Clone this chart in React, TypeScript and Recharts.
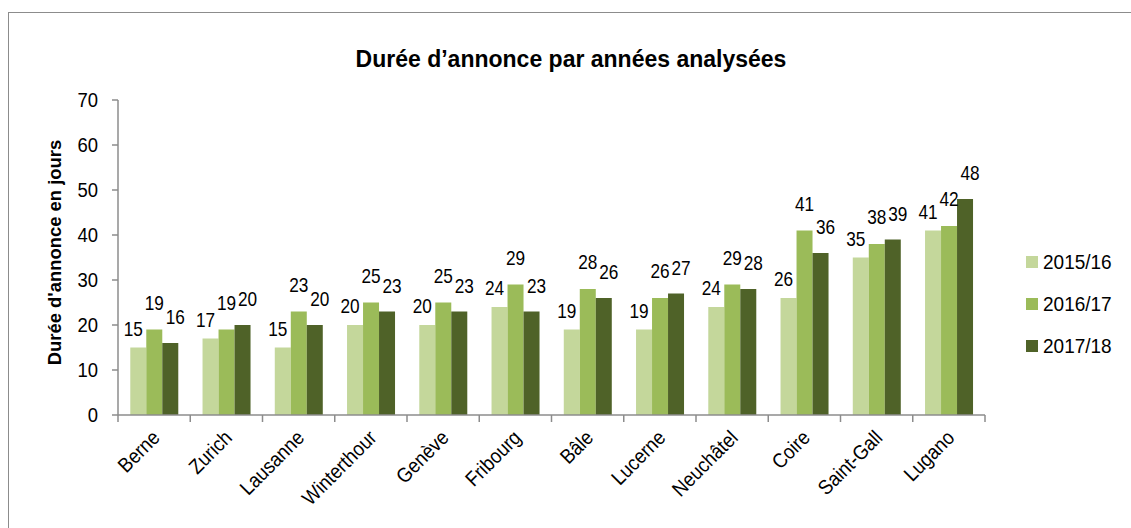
import { BarChart, Bar, XAxis, YAxis, LabelList } from "recharts";

// Values
const cities = ["Berne", "Zurich", "Lausanne", "Winterthour", "Genève", "Fribourg", "Bâle", "Lucerne", "Neuchâtel", "Coire", "Saint-Gall", "Lugano"];
const y2015 = [15, 17, 15, 20, 20, 24, 19, 19, 24, 26, 35, 41];
const y2016 = [19, 19, 23, 25, 25, 29, 28, 26, 29, 41, 38, 42];
const y2017 = [16, 20, 20, 23, 23, 23, 26, 27, 28, 36, 39, 48];
const yTicks = [0, 10, 20, 30, 40, 50, 60, 70];

const seriesNames = ["2015/16", "2016/17", "2017/18"];
const colors = ["#c4d79b", "#9bbb59", "#4f6228"];

const data = cities.map((city, i) => ({
  city,
  a: y2015[i],
  b: y2016[i],
  c: y2017[i],
}));

const FONT = "'Liberation Sans', Arial, sans-serif";
const AXIS = "#8c8c8c";

// label nudges per series (the original had its labels shifted by hand)
const labelShift = [
  { dx: -5, dy: 12 },
  { dx: 0, dy: 20 },
  { dx: 5, dy: 19 },
];

// narrowed text, like the Arial Narrow of the original
const NText = ({ x, y, sx = 0.88, anchor = "middle", size = 19, rotate = 0, weight = "normal", children }: any) => (
  <g transform={`translate(${x}, ${y}) rotate(${rotate}) scale(${sx}, 1)`}>
    <text x={0} y={0} textAnchor={anchor} fontSize={size} fontWeight={weight} fontFamily={FONT} fill="#000">
      {children}
    </text>
  </g>
);

const CityTick = (props: any) => {
  const { x, y, payload, index, visibleTicksCount } = props;
  const half = payload && payload.offset ? payload.offset : 36;
  const last = index === (visibleTicksCount ?? cities.length) - 1;
  return (
    <g>
      <line x1={x - half} y1={y - 8} x2={x - half} y2={y - 1} stroke={AXIS} strokeWidth={1.5} />
      {last && <line x1={x + half} y1={y - 8} x2={x + half} y2={y - 1} stroke={AXIS} strokeWidth={1.5} />}
      <NText x={x + 7} y={y + 16} anchor="end" rotate={-45} size={20.5} sx={0.9}>
        {payload.value}
      </NText>
    </g>
  );
};

const ValueTick = (props: any) => {
  const { x, y, payload } = props;
  return (
    <NText x={x - 12} y={y + 7} anchor="end" size={21} sx={0.88}>
      {payload.value}
    </NText>
  );
};

const YTitle = (props: any) => {
  const vb = props.viewBox || { x: 0, y: 87, height: 315 };
  return (
    <NText x={52} y={vb.y + vb.height / 2 - 5} rotate={-90} size={19} weight="bold" sx={0.97}>
      Durée d'annonce en jours
    </NText>
  );
};

const makeBarValue = (s: number) => (props: any) => {
  const { x, y, width, value } = props;
  return (
    <NText x={x + width / 2 + labelShift[s].dx} y={y - labelShift[s].dy} size={21} sx={0.82}>
      {value}
    </NText>
  );
};
const barValues = [makeBarValue(0), makeBarValue(1), makeBarValue(2)];

export default function App() {
  return (
    <div
      style={{
        position: "fixed",
        left: 8,
        top: 12,
        width: 1123,
        height: 516,
        overflow: "hidden",
        background: "#fff",
      }}
    >
      <div
        style={{
          position: "relative",
          width: 1180,
          height: 560,
          border: "1.5px solid #8c8c8c",
          boxSizing: "border-box",
          background: "#fff",
          fontFamily: FONT,
        }}
      >
        <div
          style={{
            position: "absolute",
            top: 33,
            left: 0,
            width: 1124,
            textAlign: "center",
            fontSize: 23,
            lineHeight: "26px",
            fontWeight: "bold",
            fontFamily: FONT,
          }}
        >
          Durée d’annonce par années analysées
        </div>
        <BarChart
          width={1116}
          height={508}
          data={data}
          margin={{ top: 87, right: 140, bottom: 16, left: 0 }}
          barCategoryGap="17%"
          barGap={0}
        >
          <XAxis
            dataKey="city"
            height={90}
            interval={0}
            tickLine={false}
            axisLine={{ stroke: AXIS, strokeWidth: 1.5 }}
            tick={<CityTick />}
          />
          <YAxis
            width={109}
            domain={[0, 70]}
            ticks={yTicks}
            interval={0}
            tickSize={6}
            tickLine={{ stroke: AXIS, strokeWidth: 1.5 }}
            axisLine={{ stroke: AXIS, strokeWidth: 1.5 }}
            tick={<ValueTick />}
            label={<YTitle />}
          />
          {(["a", "b", "c"] as const).map((k, i) => {
            const Lab = barValues[i];
            return (
              <Bar key={k} dataKey={k} name={seriesNames[i]} fill={colors[i]} isAnimationActive={false}>
                <LabelList dataKey={k} content={<Lab />} />
              </Bar>
            );
          })}
        </BarChart>
        <div style={{ position: "absolute", left: 1017, top: 228, fontFamily: FONT, fontSize: 20 }}>
          {seriesNames.map((n, i) => (
            <div key={n} style={{ display: "flex", alignItems: "center", height: 42 }}>
              <span style={{ width: 12, height: 12, background: colors[i], display: "inline-block", marginRight: 5 }} />
              <span style={{ display: "inline-block", transform: "scaleX(0.95)", transformOrigin: "left center" }}>{n}</span>
            </div>
          ))}
        </div>
      </div>
    </div>
  );
}
